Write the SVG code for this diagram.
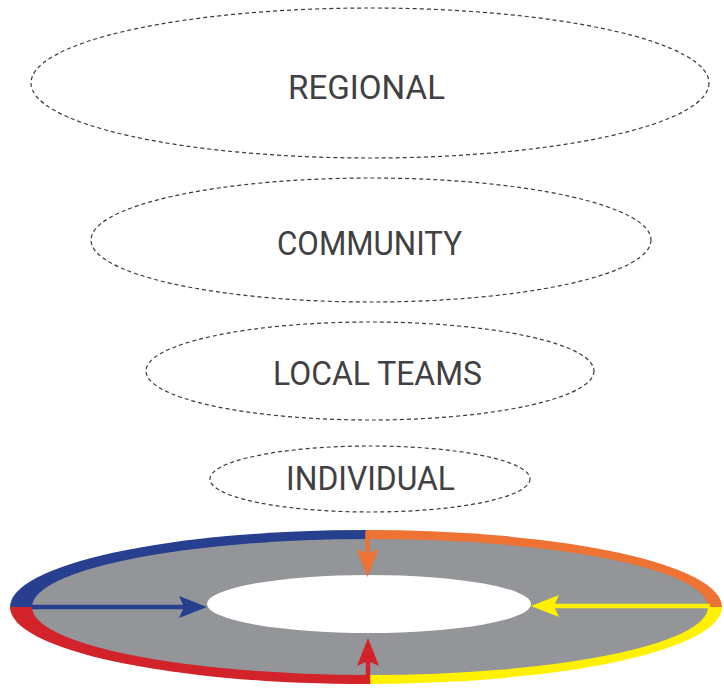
<svg xmlns="http://www.w3.org/2000/svg" width="724" height="690" viewBox="0 0 724 690">
<defs>
<style>
.lvl{fill:none;stroke:#3a3a3a;stroke-width:1.2;stroke-dasharray:4 3}
.lbl{font-family:Roboto,"Liberation Sans",sans-serif;font-size:34px;fill:#414042;text-anchor:start}
.arr{fill:none;stroke-width:4.5}
</style>
<marker id="mBlue" viewBox="0 0 28 22" refX="5" refY="11" markerWidth="28" markerHeight="22" markerUnits="userSpaceOnUse" orient="auto"><path d="M0,0 L28,11 L0,22 L5,11 Z" fill="#263f8f"/></marker>
<marker id="mYellow" viewBox="0 0 28 22" refX="5" refY="11" markerWidth="28" markerHeight="22" markerUnits="userSpaceOnUse" orient="auto"><path d="M0,0 L28,11 L0,22 L5,11 Z" fill="#fff100"/></marker>
<marker id="mOrange" viewBox="0 0 28 22" refX="5" refY="11" markerWidth="28" markerHeight="22" markerUnits="userSpaceOnUse" orient="auto"><path d="M0,0 L28,11 L0,22 L5,11 Z" fill="#ee7233"/></marker>
<marker id="mRed" viewBox="0 0 28 22" refX="5" refY="11" markerWidth="28" markerHeight="22" markerUnits="userSpaceOnUse" orient="auto"><path d="M0,0 L28,11 L0,22 L5,11 Z" fill="#d2232a"/></marker>
</defs>
<g id="regional">
<ellipse class="lvl" cx="370" cy="83" rx="339" ry="75"/>
<text class="lbl" x="288" y="99" textLength="157" lengthAdjust="spacingAndGlyphs">REGIONAL</text>
</g>
<g id="community">
<ellipse class="lvl" cx="371" cy="240" rx="280" ry="62"/>
<text class="lbl" x="277" y="255" textLength="185" lengthAdjust="spacingAndGlyphs">COMMUNITY</text>
</g>
<g id="local-teams">
<ellipse class="lvl" cx="370" cy="371" rx="224" ry="49"/>
<text class="lbl" x="273" y="385" textLength="209" lengthAdjust="spacingAndGlyphs">LOCAL TEAMS</text>
</g>
<g id="individual">
<ellipse class="lvl" cx="370" cy="479" rx="160" ry="33"/>
<text class="lbl" x="286" y="490" textLength="169" lengthAdjust="spacingAndGlyphs">INDIVIDUAL</text>
</g>
<g id="ring">
<path d="M366,607 L10,607 A356,77 0 0 1 366,530 Z" fill="#263f8f"/>
<path d="M366,607 L366,530 A356,77 0 0 1 722,607 Z" fill="#ee7233"/>
<path d="M370,607 L722,607 A356,77 0 0 1 370,684 Z" fill="#fff100"/>
<path d="M370,607 L370,684 A356,77 0 0 1 10,607 Z" fill="#d2232a"/>
<ellipse cx="370" cy="607" rx="338" ry="68" fill="#939598"/>
<ellipse cx="369" cy="604" rx="162" ry="29" fill="#ffffff"/>
</g>
<g id="connectors">
<line class="arr" x1="32" y1="607" x2="184" y2="607" stroke="#263f8f" marker-end="url(#mBlue)"/>
<line class="arr" x1="710" y1="606" x2="554" y2="606" stroke="#fff100" marker-end="url(#mYellow)"/>
<line class="arr" x1="367.5" y1="531" x2="367.5" y2="554" stroke="#ee7233" marker-end="url(#mOrange)"/>
<line class="arr" x1="368" y1="684" x2="368" y2="661" stroke="#d2232a" marker-end="url(#mRed)"/>
</g>
</svg>
